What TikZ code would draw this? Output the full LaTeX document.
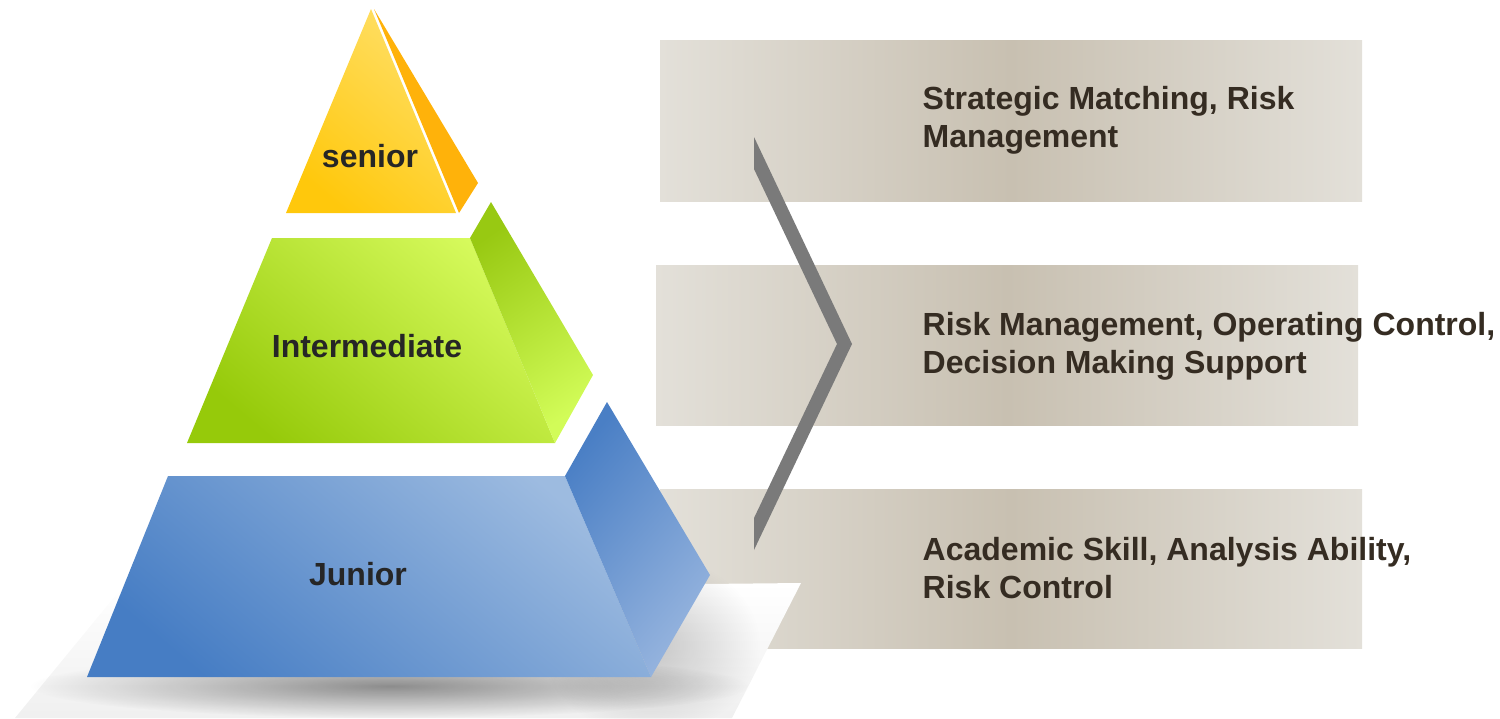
\documentclass[tikz,border=0pt]{standalone}
\usepackage{fontspec}
\setmainfont{Liberation Sans}
\usetikzlibrary{fadings}
\definecolor{bandlight}{HTML}{E3E0D9}
\definecolor{banddark}{HTML}{C8C0B1}
\definecolor{txtbrown}{HTML}{352C22}
\definecolor{labeltxt}{HTML}{262626}
\definecolor{chev}{HTML}{7A7A7A}
\definecolor{ylwA}{HTML}{FFC80C}
\definecolor{ylwB}{HTML}{FFDF66}
\definecolor{ylwSide}{HTML}{FFB20A}
\definecolor{grnA}{HTML}{96CA0A}
\definecolor{grnB}{HTML}{D6FA5C}
\definecolor{grnSA}{HTML}{98C912}
\definecolor{grnSB}{HTML}{D2FC58}
\definecolor{bluA}{HTML}{467DC4}
\definecolor{bluB}{HTML}{9DBBE0}
\definecolor{bluSA}{HTML}{4A7FC5}
\definecolor{bluSB}{HTML}{96B4DE}
\tikzfading[name=softshadow, inner color=transparent!0, outer color=transparent!100]
\tikzset{
  band/.style={left color=bandlight, right color=bandlight, middle color=banddark, draw=none},
  bandtxt/.style={anchor=west, align=left, text=txtbrown, font=\fontsize{9.1}{10.8}\selectfont\bfseries, inner sep=0pt},
  lvltxt/.style={text=labeltxt, font=\fontsize{9.1}{10.8}\selectfont\bfseries, inner sep=0pt}
}
\begin{document}
\begin{tikzpicture}[x=0.01cm,y=-0.01cm]
\useasboundingbox (0,0) rectangle (1500,718);
% bands
\path[band] (660,40) rectangle (1362,201);
\path[band] (656,265) rectangle (1358,425);
\path[band] (660,489) rectangle (1362,648);
% chevron
\fill[chev] (754,137) -- (852,344) -- (754,550) -- (754,518) -- (837,344) -- (754,169) -- cycle;
% shadow plane
\shade[top color=white, bottom color=black!6] (15,718) -- (120,590) -- (801,583) -- (732,718) -- cycle;
\fill[black, opacity=0.2, path fading=softshadow] (650,645) ellipse [x radius=110, y radius=90];
\fill[black, opacity=0.42, path fading=softshadow] (390,686) ellipse [x radius=360, y radius=32];
% junior
\shade[bottom color=bluA, top color=bluB, shading angle=-40] (168,476) -- (565,476) -- (651,677) -- (87,677) -- cycle;
\shade[left color=bluSA, right color=bluSB, shading angle=50] (565,476) -- (607,402) -- (710,575) -- (651,677) -- cycle;
% intermediate
\shade[bottom color=grnA, top color=grnB, shading angle=-40] (272,238) -- (470,238) -- (555,443) -- (187,443) -- cycle;
\shade[left color=grnSA, right color=grnSB, shading angle=35] (470,238) -- (491,202) -- (593,375) -- (555,443) -- cycle;
% senior
\shade[bottom color=ylwA, top color=ylwB, shading angle=-40] (371,9) -- (456,213) -- (286,213) -- cycle;
\fill[ylwSide] (374,9) -- (478,183) -- (459,213) -- cycle;
% labels
\node[lvltxt] (senior) at (370,156) {senior};
\node[lvltxt] (inter) at (367,346) {Intermediate};
\node[lvltxt] (junior) at (358,574) {Junior};
\node[bandtxt] (t1) at (922,120) {Strategic Matching, Risk\\Management};
\node[bandtxt] (t2) at (922,346) {Risk Management, Operating Control,\\Decision Making Support};
\node[bandtxt] (t3) at (922,568) {Academic Skill, Analysis Ability,\\Risk Control};
\end{tikzpicture}
\end{document}
